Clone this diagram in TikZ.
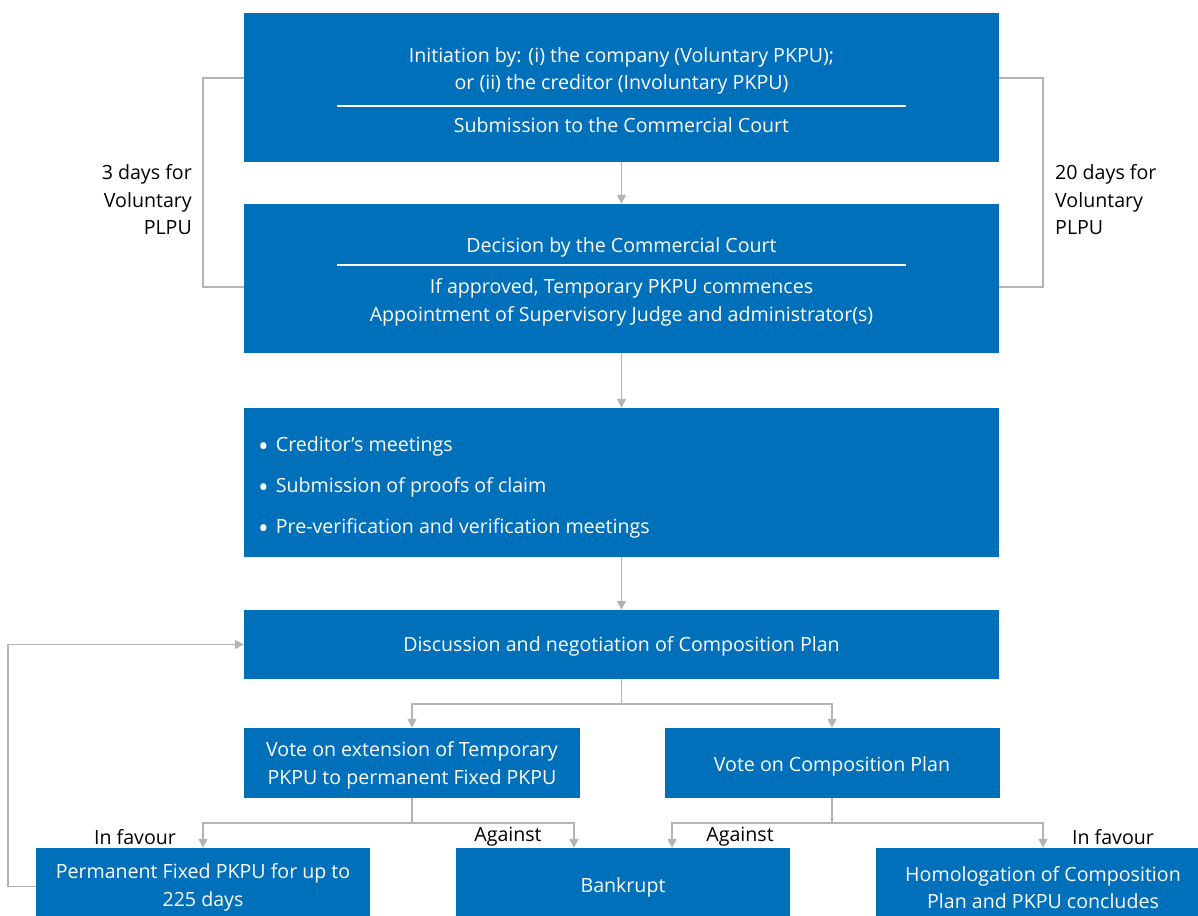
\documentclass[tikz,border=0pt]{standalone}
\usepackage{fontspec}
\usepackage{graphicx}
\setmainfont{Open Sans}
\usetikzlibrary{arrows.meta}
\definecolor{boxblue}{RGB}{0,112,187}
\definecolor{linegray}{RGB}{180,180,180}
\newcommand{\mybul}{\raisebox{-4.5pt}{\scalebox{1.45}{\textbullet}}\hspace{7pt}}
\begin{document}
\begin{tikzpicture}[x=1pt,y=-1pt,
  bluebox/.style={fill=boxblue, draw=none, inner sep=0pt, minimum width=755pt, minimum height=149pt},
  smallbox/.style={fill=boxblue, draw=none, inner sep=0pt, minimum width=335pt, minimum height=70pt},
  btxt/.style={text=white, inner sep=0pt, align=center, font=\fontsize{19.6}{27.5}\selectfont},
  lbl/.style={text=black, inner sep=0pt, font=\fontsize{19.6}{27.5}\selectfont},
  conn/.style={draw=linegray, line width=1.6pt},
  arr/.style={conn, -{Triangle[width=9pt,length=9pt]}},
  rule/.style={draw=white, line width=1.5pt}]
\useasboundingbox (0,0) rectangle (1198,915);
\clip (0,0) rectangle (1198,915);

% boxes
\node[bluebox] (b1) at (621.5,87.5) {};
\node[bluebox] (b2) at (621.5,278.5) {};
\node[bluebox] (b3) at (621.5,482.5) {};
\node[bluebox, minimum height=69pt] (b4) at (621.5,644.5) {};
\node[smallbox, minimum width=336pt] (b5) at (412,763) {};
\node[smallbox] (b6) at (832,763) {};
\node[smallbox, minimum width=334pt, minimum height=77pt] (b7) at (203,886.5) {};
\node[smallbox, minimum width=334pt, minimum height=77pt] (b8) at (623,886.5) {};
\node[smallbox, minimum width=334pt, minimum height=77pt] (b9) at (1043,886.5) {};

% box texts
\node[btxt] (t1a) at (621.5,71) {Initiation by: (i) the company (Voluntary PKPU);\\or (ii) the creditor (Involuntary PKPU)};
\draw[rule] (337,106) -- (906,106);
\node[btxt] (t1b) at (621.5,125) {Submission to the Commercial Court};

\node[btxt] (t2a) at (621.5,247) {Decision by the Commercial Court};
\draw[rule] (337,265) -- (906,265);
\node[btxt] (t2b) at (621.5,302.5) {If approved, Temporary PKPU commences\\Appointment of Supervisory Judge and administrator(s)};

\node[btxt, anchor=west, align=left, font=\fontsize{19.6}{41}\selectfont] (t3) at (258,487.5)
  {\mybul Creditor’s meetings\\\mybul Submission of proofs of claim\\\mybul Pre-verification and verification meetings};

\node[btxt] (t4) at (621.5,646) {Discussion and negotiation of Composition Plan};
\node[btxt] (t5) at (412,765.5) {Vote on extension of Temporary\\PKPU to permanent Fixed PKPU};
\node[btxt] (t6) at (832,766) {Vote on Composition Plan};
\node[btxt] (t7) at (203,887.5) {Permanent Fixed PKPU for up to\\225 days};
\node[btxt] (t8) at (623,887) {Bankrupt};
\node[btxt] (t9) at (1043,887.5) {Homologation of Composition\\Plan and PKPU concludes};

% side labels
\node[lbl, anchor=east, align=right] (l1) at (192,200) {3 days for\\Voluntary\\PLPU};
\node[lbl, anchor=west, align=left] (l2) at (1055,200) {20 days for\\Voluntary\\PLPU};

% vote labels
\node[lbl] (v1) at (135,837) {In favour};
\node[lbl] (v2) at (508,837) {Against};
\node[lbl] (v3) at (740,837) {Against};
\node[lbl] (v4) at (1113,837) {In favour};

% brackets
\draw[conn] ([yshift=9.5pt]b1.west) -- ++(-41,0) |- ([yshift=-8.5pt]b2.west);
\draw[conn] ([yshift=9.5pt]b1.east) -- ++(44,0) |- ([yshift=-8.5pt]b2.east);

% main flow
\draw[arr] (b1) -- (b2);
\draw[arr] (b2) -- (b3);
\draw[arr] (b3) -- (b4);
\coordinate (s4) at ([yshift=-25pt]b4.south);
\draw[conn] (b4.south) -- (s4);
\draw[arr] (s4) -| (b5.north);
\draw[arr] (s4) -| (b6.north);

\coordinate (s5) at ([yshift=-25pt]b5.south);
\draw[conn] (b5.south) -- (s5);
\draw[arr] (s5) -| (b7.north);
\draw[arr] (s5) -| ([xshift=-49pt]b8.north);

\coordinate (s6) at ([yshift=-25pt]b6.south);
\draw[conn] (b6.south) -- (s6);
\draw[arr] (s6) -| ([xshift=49pt]b8.north);
\draw[arr] (s6) -| (b9.north);

% feedback loop
\draw[arr] (b7.west) -- ++(-28,0) |- (b4.west);
\end{tikzpicture}
\end{document}
